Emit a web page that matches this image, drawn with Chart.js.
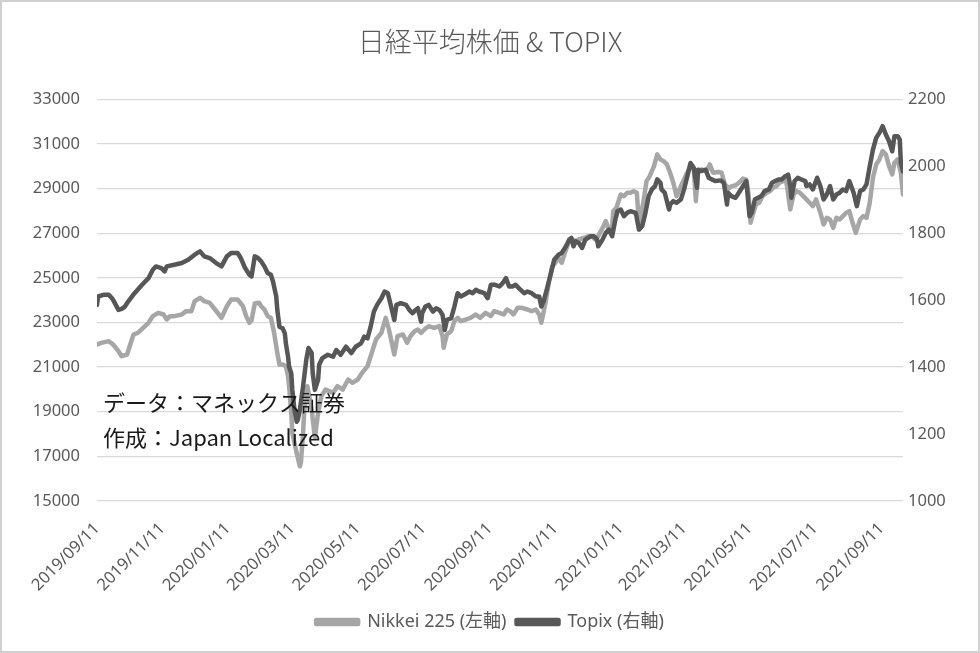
<!DOCTYPE html>
<html>
<head>
<meta charset="utf-8">
<script src="https://cdn.jsdelivr.net/npm/chart.js@4.4.1/dist/chart.umd.min.js"></script>
<style>
  body { margin: 0; background: #fff; }
  #wrap { width: 980px; height: 653px; }
</style>
</head>
<body>
<div id="wrap"><canvas id="chart" width="980" height="653"></canvas></div>
<script>
// days counted from 2019/09/11 (first trading day shown)
const tickDays = [0, 61, 122, 182, 243, 304, 366, 427, 488, 547, 608, 669, 731];
const tickLabels = ['2019/09/11', '2019/11/11', '2020/01/11', '2020/03/11', '2020/05/11', '2020/07/11',
    '2020/09/11', '2020/11/11', '2021/01/11', '2021/03/11', '2021/05/11', '2021/07/11', '2021/09/11'];
const lastDay = 751; // 2021/10/01

const nikkeiDays = [0, 4, 11, 15, 20, 23, 28, 31, 34, 38, 43, 48, 52, 57, 62, 65, 68, 72, 79, 83, 88, 91, 96, 100, 105, 110,
    116, 121, 125, 131, 136, 139, 142, 144, 147, 151, 153, 156, 159, 162, 165, 168, 170, 173, 176, 178, 179, 181, 182, 186,
    189, 190, 192, 193, 196, 200, 203, 206, 209, 213, 220, 224, 229, 234, 238, 243, 247, 252, 257, 260, 265, 269, 272, 277,
    280, 285, 289, 292, 296, 299, 302, 305, 309, 314, 319, 322, 323, 326, 330, 333, 336, 339, 344, 348, 353, 357, 362, 367,
    370, 375, 379, 382, 385, 388, 392, 396, 401, 405, 409, 412, 414, 418, 421, 424, 427, 430, 433, 437, 440, 443, 446, 449,
    454, 458, 461, 464, 467, 472, 474, 477, 480, 481, 484, 488, 491, 494, 497, 500, 503, 505, 509, 512, 515, 519, 522, 525,
    528, 531, 534, 537, 540, 544, 547, 550, 553, 556, 558, 560, 563, 568, 571, 574, 579, 582, 585, 587, 588, 591, 595, 599,
    602, 605, 607, 609, 611, 614, 617, 620, 624, 627, 630, 633, 636, 639, 642, 646, 649, 652, 655, 658, 661, 664, 667, 670,
    674, 677, 680, 683, 686, 689, 692, 695, 698, 701, 704, 707, 711, 714, 717, 720, 723, 726, 729, 732, 735, 738, 741, 743,
    746, 749, 751];
const nikkeiValues = [22014, 22089, 22164, 22014, 21715, 21490, 21566, 22014, 22463, 22538, 22762, 22987, 23286, 23435,
    23360, 23135, 23286, 23286, 23360, 23510, 23510, 23955, 24108, 23955, 23884, 23584, 23211, 23731, 24032, 24032, 23731,
    23286, 22987, 23100, 23850, 23884, 23731, 23584, 23286, 23211, 22538, 21642, 21117, 21117, 21040, 20593, 20145, 18952,
    18054, 17157, 16557, 16710, 18054, 18952, 20145, 19100, 17830, 18952, 19696, 19996, 19848, 20145, 19996, 20445, 20297,
    20445, 20745, 21040, 21790, 22238, 22538, 23211, 22687, 21566, 22387, 22463, 22089, 22387, 22612, 22687, 22538, 22687,
    22836, 22762, 22836, 22387, 21866, 22463, 22612, 23061, 23211, 23061, 23135, 23211, 23360, 23211, 23435, 23286, 23510,
    23435, 23360, 23584, 23510, 23360, 23660, 23660, 23584, 23510, 23584, 23360, 22987, 23900, 24800, 25500, 25677, 25902,
    25677, 26274, 26646, 26722, 26646, 26722, 26799, 26871, 26871, 26722, 26871, 27319, 27543, 27171, 27319, 27991, 28144,
    28740, 28664, 28816, 28816, 28888, 28816, 27395, 28368, 29337, 29561, 30009, 30534, 30310, 30233, 30085, 29713, 29265,
    28664, 29112, 29413, 29713, 30009, 29861, 28440, 29713, 29861, 29788, 30085, 29713, 29750, 29713, 29189, 29100, 29000,
    29100, 29150, 29300, 29450, 29400, 28816, 27470, 27843, 28292, 28368, 28664, 28816, 28888, 29040, 29112, 29265, 29337,
    29413, 28070, 28740, 28888, 28816, 28664, 28516, 28368, 28216, 28516, 27920, 27395, 27695, 27619, 27245, 27695, 27619,
    27767, 27920, 27991, 27470, 27020, 27619, 27767, 27695, 28368, 29489, 30085, 30310, 30680, 30534, 30009, 29637, 30160,
    30310, 29713, 28740];

const topixDays = [0, 1, 6, 11, 14, 15, 20, 23, 26, 29, 35, 42, 48, 52, 55, 60, 63, 65, 72, 79, 85, 91, 96, 100, 105, 111,
    116, 121, 125, 131, 134, 138, 142, 144, 147, 150, 153, 156, 159, 162, 164, 167, 168, 170, 173, 175, 176, 178, 179, 181,
    182, 184, 186, 187, 189, 192, 195, 197, 200, 201, 203, 206, 207, 210, 215, 220, 223, 227, 232, 237, 241, 246, 249, 252,
    255, 258, 261, 265, 268, 271, 274, 277, 279, 283, 288, 291, 294, 297, 299, 302, 303, 306, 309, 313, 316, 319, 322, 324,
    326, 330, 333, 336, 339, 342, 347, 350, 353, 356, 361, 364, 367, 371, 375, 378, 381, 384, 387, 390, 393, 398, 401, 405,
    409, 412, 414, 416, 419, 423, 426, 430, 433, 437, 440, 442, 444, 446, 449, 452, 455, 460, 463, 466, 467, 471, 474, 477,
    480, 483, 485, 488, 491, 494, 497, 502, 505, 508, 511, 514, 517, 520, 522, 525, 526, 529, 533, 534, 537, 540, 544, 547,
    550, 553, 556, 559, 560, 563, 567, 570, 573, 576, 581, 584, 585, 587, 588, 591, 595, 598, 602, 605, 608, 610, 613, 616,
    619, 622, 626, 629, 632, 635, 638, 641, 644, 646, 647, 650, 653, 656, 660, 661, 664, 667, 671, 674, 677, 680, 683, 686,
    689, 692, 695, 698, 701, 705, 708, 711, 714, 717, 720, 723, 726, 729, 732, 735, 738, 741, 743, 746, 748, 749, 751];
const topixValues = [1586, 1611, 1616, 1616, 1606, 1601, 1571, 1574, 1581, 1596, 1621, 1646, 1666, 1691, 1701, 1696, 1686,
    1701, 1706, 1711, 1721, 1736, 1746, 1731, 1726, 1711, 1701, 1731, 1741, 1741, 1726, 1696, 1676, 1671, 1731, 1726, 1716,
    1701, 1681, 1676, 1656, 1611, 1571, 1521, 1516, 1501, 1471, 1431, 1401, 1382, 1332, 1272, 1237, 1242, 1272, 1342, 1422,
    1457, 1442, 1382, 1332, 1362, 1407, 1427, 1437, 1431, 1451, 1437, 1461, 1442, 1461, 1471, 1491, 1486, 1521, 1566, 1586,
    1606, 1626, 1621, 1581, 1541, 1586, 1591, 1586, 1571, 1561, 1571, 1576, 1536, 1561, 1581, 1586, 1566, 1576, 1571, 1556,
    1511, 1541, 1546, 1581, 1621, 1611, 1616, 1626, 1621, 1631, 1626, 1621, 1606, 1646, 1646, 1641, 1651, 1666, 1641, 1641,
    1646, 1636, 1621, 1626, 1621, 1611, 1611, 1581, 1596, 1631, 1681, 1721, 1736, 1741, 1761, 1781, 1786, 1761, 1776, 1771,
    1756, 1781, 1791, 1791, 1781, 1761, 1781, 1801, 1811, 1791, 1841, 1866, 1871, 1851, 1861, 1866, 1861, 1811, 1821, 1861,
    1911, 1931, 1941, 1961, 1951, 1931, 1921, 1871, 1886, 1896, 1891, 1901, 1931, 1970, 2010, 1996, 1936, 1990, 1986, 1990,
    1966, 1961, 1956, 1958, 1951, 1931, 1886, 1921, 1911, 1906, 1921, 1941, 1956, 1851, 1861, 1901, 1906, 1911, 1926, 1931,
    1951, 1956, 1961, 1961, 1970, 1975, 1941, 1906, 1956, 1966, 1961, 1956, 1941, 1946, 1931, 1966, 1941, 1901, 1916, 1941,
    1901, 1916, 1921, 1931, 1926, 1956, 1921, 1881, 1926, 1931, 1946, 2000, 2050, 2085, 2100, 2120, 2095, 2075, 2045, 2090,
    2090, 2080, 2010, 1985];

const notes = ['データ：マネックス証券', '作成：Japan Localized'];

const textColor = '#595959';
const gridColor = '#d9d9d9';
const tickFont = { family: "'Noto Sans', 'Noto Sans CJK JP', sans-serif", size: 16.5 };

function toPoints(days, values) {
    return days.map((d, i) => ({ x: d, y: values[i] }));
}

const frameAndNotes = {
    id: 'frameAndNotes',
    beforeDraw(chart) {
        const ctx = chart.ctx;
        ctx.save();
        ctx.fillStyle = '#ffffff';
        ctx.fillRect(0, 0, chart.width, chart.height);
        ctx.restore();
    },
    afterDraw(chart) {
        const ctx = chart.ctx;
        const area = chart.chartArea;
        ctx.save();
        ctx.strokeStyle = '#d0d0d0';
        ctx.lineWidth = 2;
        ctx.strokeRect(1, 1, chart.width - 2, chart.height - 2);

        ctx.fillStyle = '#1a1a1a';
        ctx.font = "22px 'Noto Sans CJK JP', sans-serif";
        ctx.textBaseline = 'middle';
        ctx.fillText(notes[0], area.left + 6, 403);
        ctx.fillText(notes[1], area.left + 6, 438);
        ctx.restore();
    }
};

new Chart(document.getElementById('chart'), {
    type: 'line',
    data: {
        datasets: [{
            label: 'Nikkei 225 (左軸)',
            data: toPoints(nikkeiDays, nikkeiValues),
            borderColor: '#a6a6a6',
            backgroundColor: '#a6a6a6',
            yAxisID: 'y',
            order: 1
        }, {
            label: 'Topix (右軸)',
            data: toPoints(topixDays, topixValues),
            borderColor: '#575757',
            backgroundColor: '#575757',
            yAxisID: 'y2',
            order: 0
        }]
    },
    options: {
        responsive: false,
        animation: false,
        devicePixelRatio: 1,
        layout: { padding: { top: 0, bottom: 12, left: 0, right: 0 } },
        elements: {
            point: { radius: 0 },
            line: { borderWidth: 4.5, tension: 0, borderJoinStyle: 'round', borderCapStyle: 'round' }
        },
        plugins: {
            title: {
                display: true,
                text: '日経平均株価 & TOPIX',
                color: textColor,
                font: { family: "'Noto Sans CJK JP', sans-serif", size: 27, weight: 300 },
                padding: { top: 26, bottom: 41 }
            },
            legend: {
                position: 'bottom',
                labels: {
                    color: textColor,
                    font: { family: "'Noto Sans', 'Noto Sans CJK JP', sans-serif", size: 18 },
                    boxWidth: 42,
                    boxHeight: 4,
                    padding: 10,
                    sort: (a, b) => a.datasetIndex - b.datasetIndex
                }
            },
            tooltip: { enabled: false }
        },
        scales: {
            x: {
                type: 'linear',
                min: 0,
                max: lastDay,
                grid: { display: false },
                border: { display: false },
                afterBuildTicks: (scale) => {
                    scale.ticks = tickDays.map(v => ({ value: v }));
                },
                afterFit: (scale) => { scale.height = 102; },
                ticks: {
                    autoSkip: false,
                    maxRotation: 45,
                    minRotation: 45,
                    padding: 10,
                    color: textColor,
                    font: tickFont,
                    callback: (value) => tickLabels[tickDays.indexOf(value)]
                }
            },
            y: {
                position: 'left',
                min: 15000,
                max: 33000,
                grid: { color: gridColor, lineWidth: 1.3, drawTicks: false },
                border: { display: false },
                afterFit: (scale) => { scale.width = 97; },
                ticks: { stepSize: 2000, padding: 17, color: textColor, font: tickFont, callback: (value) => String(value) }
            },
            y2: {
                position: 'right',
                min: 1000,
                max: 2200,
                grid: { display: false, drawTicks: false },
                border: { display: false },
                afterFit: (scale) => { scale.width = 77; },
                ticks: { stepSize: 200, padding: 5, color: textColor, font: tickFont, callback: (value) => String(value) }
            }
        }
    },
    plugins: [frameAndNotes]
});
</script>
</body>
</html>
